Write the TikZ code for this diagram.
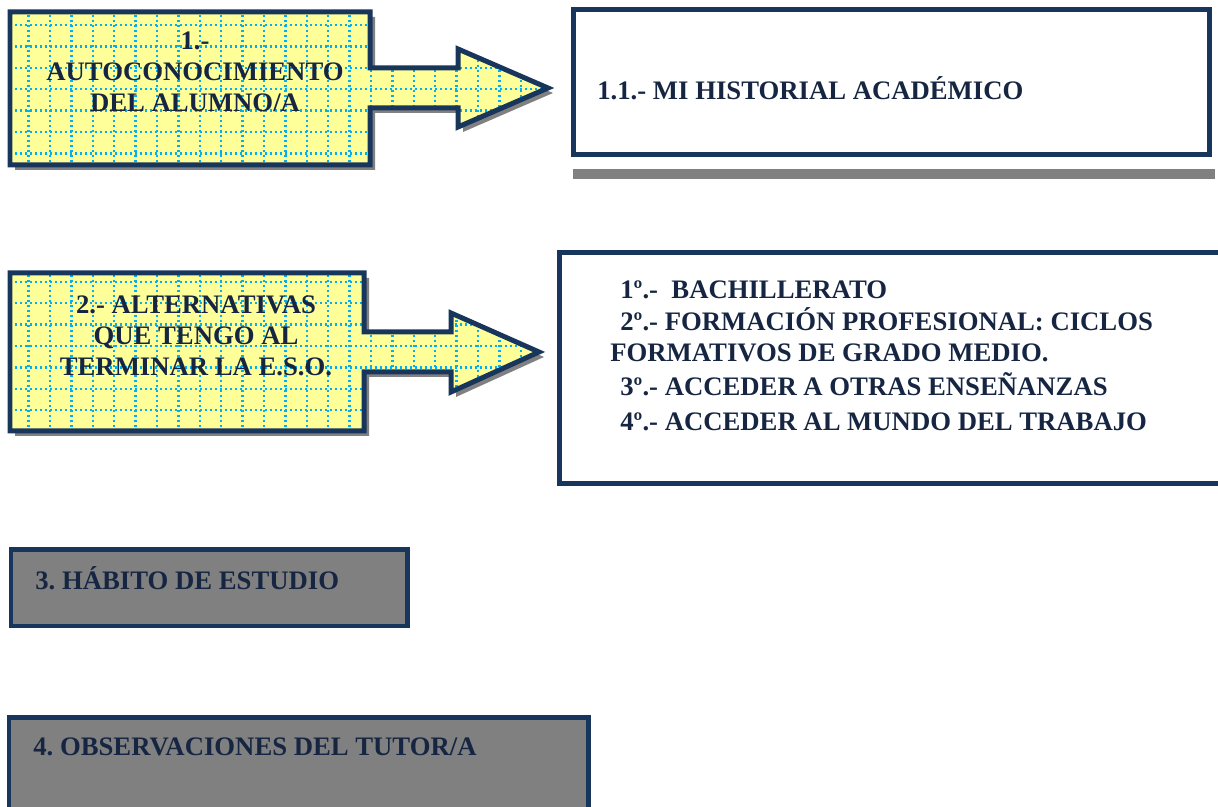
\documentclass[tikz,border=0pt]{standalone}
\usepackage{fontspec}
\setmainfont{Liberation Serif}
\usetikzlibrary{positioning}

\definecolor{navy}{RGB}{24,54,92}
\definecolor{inknavy}{RGB}{22,38,66}
\definecolor{gridcyan}{RGB}{0,176,240}
\definecolor{paleyellow}{RGB}{255,255,153}
\definecolor{shadowgray}{RGB}{128,128,128}

\begin{document}
\frenchspacing
\begin{tikzpicture}[
    x=0.02cm, y=-0.02cm,
    outline/.style={draw=navy,line width=0.1cm,line join=miter},
    gridline/.style={draw=gridcyan,line width=0.045cm,dash pattern=on 0.04cm off 0.06cm},
    shadowfill/.style={fill=shadowgray},
    label/.style={font=\bfseries\fontsize{15.2}{17.6}\selectfont,text=inknavy,inner sep=0pt},
    arrowone/.style={insert path={(10,12) -- (370,12) -- (370,68) -- (458,68) -- (458,49) -- (548,88)
        -- (458,127) -- (458,108) -- (370,108) -- (370,165) -- (10,165) -- cycle}},
    arrowtwo/.style={insert path={(10,273) -- (364,273) -- (364,332) -- (451,332) -- (451,313) -- (539,352)
        -- (451,392) -- (451,372) -- (364,372) -- (364,431) -- (10,431) -- cycle}}
]
\useasboundingbox (0,0) rectangle (1218,807);

% flechas con cuadricula
\foreach \shape in {arrowone,arrowtwo} {
  \fill[shadowfill,shift={(5,5)},\shape];
  \fill[paleyellow,\shape];
  \begin{scope}
    \clip[\shape];
    \foreach \gx in {7.2,28.6,...,560} \draw[gridline] (\gx,0) -- (\gx,450);
    \foreach \gy in {3.6,25,...,450} \draw[gridline] (0,\gy) -- (560,\gy);
  \end{scope}
  \draw[outline,\shape];
}

\node[label,align=center] (autoconoc) at (195,72) {1.-\\AUTOCONOCIMIENTO\\DEL ALUMNO/A};
\node[label,align=center] (alternativas) at (196,336) {2.- ALTERNATIVAS\\QUE TENGO AL\\TERMINAR LA E.S.O.};

% cuadro 1.1
\fill[shadowfill] (573,169) rectangle (1215,179);
\draw[outline,fill=white] (573,10) rectangle (1209,155);
\node[label,anchor=west] (historial) at (597,88) {1.1.- MI HISTORIAL ACADÉMICO};

% cuadro de alternativas
\draw[outline] (1222,253) -- (559,253) -- (559,484) -- (1222,484);
\node[label,anchor=base west] (bach) at (620,299) {1º.-\ \ BACHILLERATO};
\node[label,anchor=base west] (fp) at (620,331) {2º.- FORMACIÓN PROFESIONAL: CICLOS};
\node[label,anchor=base west] (ciclos) at (610,362) {FORMATIVOS DE GRADO MEDIO.};
\node[label,anchor=base west] (otras) at (620,396) {3º.- ACCEDER A OTRAS ENSEÑANZAS};
\node[label,anchor=base west] (trabajo) at (620,431) {4º.- ACCEDER AL MUNDO DEL TRABAJO};

% cuadros grises
\draw[outline,fill=shadowgray] (11,550) rectangle (407,626);
\node[label,anchor=west] (habito) at (35,578) {3. HÁBITO DE ESTUDIO};

\fill[shadowgray] (9,717) rectangle (588,810);
\draw[outline] (9,812) -- (9,717) -- (588,717) -- (588,812);
\node[label,anchor=west] (observ) at (33,747) {4. OBSERVACIONES DEL TUTOR/A};
\end{tikzpicture}
\end{document}
